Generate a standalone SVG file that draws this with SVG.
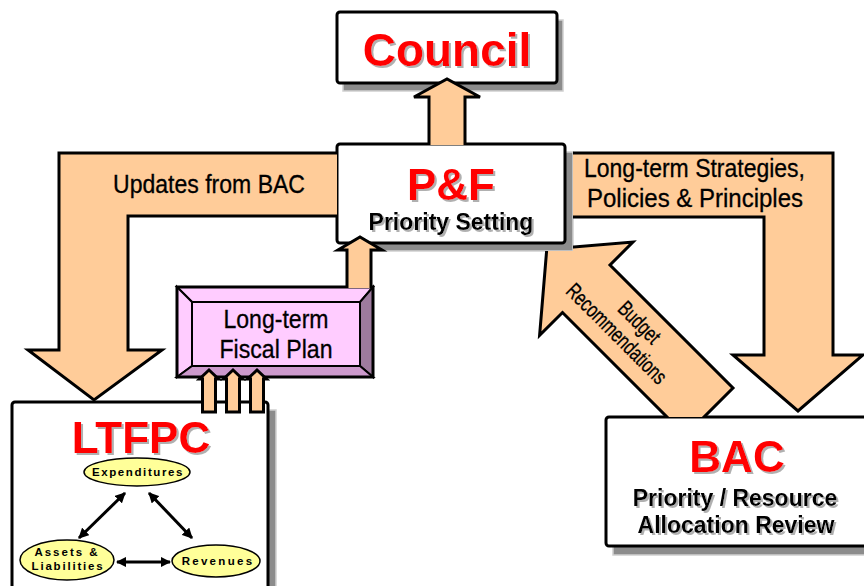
<svg xmlns="http://www.w3.org/2000/svg" width="864" height="586" viewBox="0 0 864 586">
<style>
.box{fill:#fff;stroke:#000;stroke-width:3}
.shadow{fill:#8c8c8c;stroke:#d0d0d0;stroke-width:1.5}
.arrow{fill:#FFCC99;stroke:#000;stroke-width:3;stroke-linejoin:miter}
.title{font-family:"Liberation Sans",Arial,sans-serif;font-weight:bold;fill:#FF0000;text-anchor:middle;filter:url(#tshadow)}
.sub{font-family:"Liberation Sans",Arial,sans-serif;font-weight:bold;fill:#000;text-anchor:middle;filter:url(#tshadow)}
.lbl{font-family:"Liberation Sans",Arial,sans-serif;fill:#000;stroke:#000;stroke-width:0.3}
.ell{fill:#FFFF99;stroke:#000;stroke-width:1.5}
.etext{font-family:"Liberation Sans",Arial,sans-serif;font-weight:bold;font-size:11.5px;fill:#000;text-anchor:middle}
.link{stroke:#000;stroke-width:3;fill:none;marker-start:url(#ah);marker-end:url(#ah)}
</style>
<defs>
<filter id="tshadow" x="-10%" y="-20%" width="130%" height="150%">
<feDropShadow dx="2" dy="2" stdDeviation="0.4" flood-color="#b0b0b0" flood-opacity="1"/>
</filter>
<marker id="ah" viewBox="0 0 10 10" refX="9" refY="5" markerWidth="3.5" markerHeight="3.5" orient="auto-start-reverse" markerUnits="strokeWidth">
<path d="M0,0 L10,5 L0,10 z" fill="#000"/>
</marker>
<clipPath id="budgetClip">
<rect x="573" y="0" width="300" height="417"/>
<rect x="0" y="251" width="864" height="166"/>
</clipPath>
</defs>

<g id="council">
<rect class="shadow" x="343" y="20" width="220" height="71"/>
<rect class="box" x="337" y="12" width="220" height="71" rx="3"/>
<text class="title" x="447" y="66" font-size="46">Council</text>
</g>

<g id="pf">
<rect class="shadow" x="345" y="152" width="228" height="99"/>
<rect class="box" x="337" y="144" width="228" height="99" rx="3"/>
<text class="title" x="451" y="200" font-size="44">P&amp;F</text>
<text class="sub" x="451" y="230" font-size="23">Priority Setting</text>
</g>

<g id="ltfp">
<polygon points="177,287 373,287 360,302 192,302" fill="#FFCCFF" stroke="#000" stroke-width="2"/>
<polygon points="177,287 192,302 192,366 177,377" fill="#FFCCFF" stroke="#000" stroke-width="2"/>
<polygon points="373,287 373,377 360,366 360,302" fill="#9E7B9E" stroke="#000" stroke-width="2"/>
<polygon points="177,377 373,377 360,366 192,366" fill="#CC99CC" stroke="#000" stroke-width="2"/>
<rect x="192" y="302" width="168" height="64" fill="#FFCCFF" stroke="#000" stroke-width="2"/>
<rect x="177" y="287" width="196" height="90" fill="none" stroke="#000" stroke-width="3"/>
<text class="lbl" x="276" y="328" font-size="25" text-anchor="middle" textLength="105" lengthAdjust="spacingAndGlyphs">Long-term</text>
<text class="lbl" x="276" y="358" font-size="25" text-anchor="middle" textLength="113" lengthAdjust="spacingAndGlyphs">Fiscal Plan</text>
</g>

<g id="ltfpc">
<rect class="shadow" x="20" y="410" width="256" height="200"/>
<rect class="box" x="12" y="402" width="256" height="200" rx="3"/>
<text class="title" x="141" y="453" font-size="44">LTFPC</text>
<g id="expenditures">
<ellipse class="ell" cx="137" cy="472" rx="53" ry="14"/>
<text class="etext" x="138" y="476" font-size="12" letter-spacing="1.6">Expenditures</text>
</g>
<g id="assets">
<ellipse class="ell" cx="67" cy="560" rx="47" ry="20"/>
<text class="etext" x="67" y="556" letter-spacing="2">Assets &amp;</text>
<text class="etext" x="68" y="570" letter-spacing="1.8">Liabilities</text>
</g>
<g id="revenues">
<ellipse class="ell" cx="216" cy="561" rx="44" ry="16"/>
<text class="etext" x="218" y="565" letter-spacing="2.3">Revenues</text>
</g>
</g>

<g id="bac">
<rect class="shadow" x="613" y="426" width="270" height="129"/>
<rect class="box" x="606" y="417" width="270" height="129" rx="3"/>
<text class="title" x="737" y="472" font-size="44">BAC</text>
<text class="sub" x="735" y="506" font-size="23">Priority / Resource</text>
<text class="sub" x="736" y="533" font-size="23">Allocation Review</text>
</g>

<g id="connectors">
<path class="arrow" d="M337,153 L59,153 L59,350 L28,350 L94,400 L162,350 L128,350 L128,216 L337,216"/>
<text class="lbl" x="113" y="193" font-size="25" textLength="192" lengthAdjust="spacingAndGlyphs">Updates from BAC</text>

<path class="arrow" d="M573,217 L764,217 L764,355 L733,355 L798,411 L863,355 L833,355 L833,153 L573,153"/>
<text class="lbl" x="584" y="177" font-size="25" textLength="221" lengthAdjust="spacingAndGlyphs">Long-term Strategies,</text>
<text class="lbl" x="587" y="207" font-size="25" textLength="216" lengthAdjust="spacingAndGlyphs">Policies &amp; Principles</text>

<g clip-path="url(#budgetClip)">
<polygon class="arrow" points="546.75,249.25 632.9,242.1 610,265 733,388 685.5,435.5 562.5,312.5 539.6,335.4"/>
</g>
<g transform="translate(627,329) rotate(45)">
<text class="lbl" x="4" y="-6" font-size="22" text-anchor="middle" textLength="50" lengthAdjust="spacingAndGlyphs">Budget</text>
<text class="lbl" x="-4" y="18" font-size="22" text-anchor="middle" textLength="132" lengthAdjust="spacingAndGlyphs">Recommendations</text>
</g>

<path class="arrow" d="M429,145 L429,97 L414,97 L447,79 L480,97 L465,97 L465,145"/>
<path class="arrow" d="M347,288 L347,250 L338,250 L360,237 L382,250 L371,250 L371,288"/>

<path class="arrow" d="M202.5,412 L202.5,379 L199.5,379 L209,370 L218.5,379 L215.5,379 L215.5,412 Z"/>
<path class="arrow" d="M226.5,412 L226.5,379 L223.5,379 L233,370 L242.5,379 L239.5,379 L239.5,412 Z"/>
<path class="arrow" d="M250.5,412 L250.5,379 L247.5,379 L257,370 L266.5,379 L263.5,379 L263.5,412 Z"/>

<line class="link" x1="125" y1="493" x2="79" y2="538"/>
<line class="link" x1="149" y1="493" x2="192" y2="538"/>
<line class="link" x1="117" y1="562" x2="170" y2="562"/>
</g>
</svg>
